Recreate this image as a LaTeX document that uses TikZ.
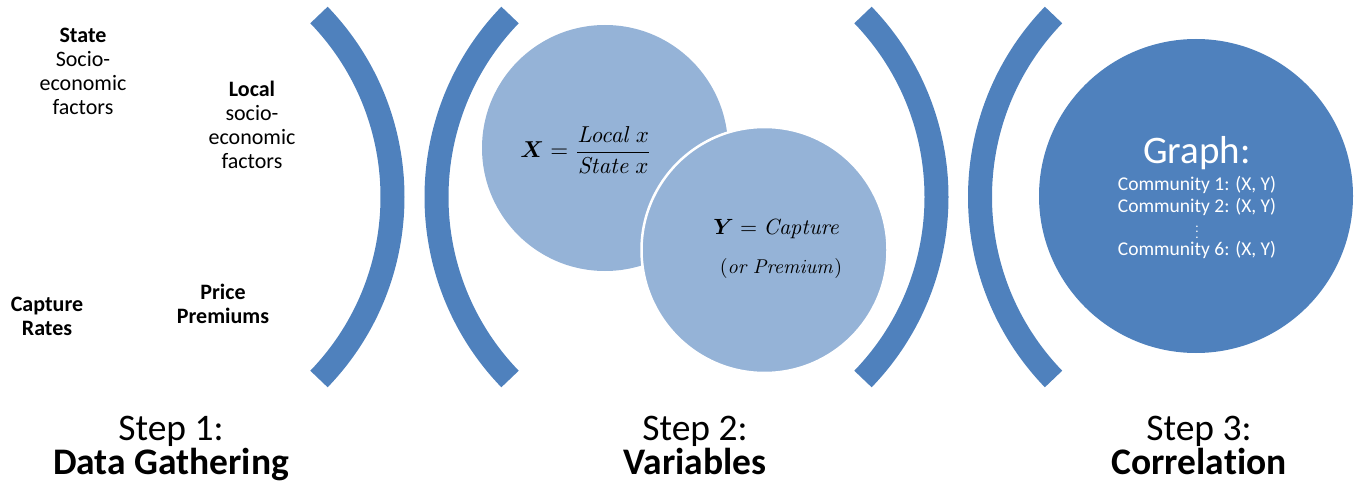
\documentclass[tikz,border=0pt]{standalone}
\usepackage{amsmath}
\usepackage[no-math]{fontspec}
\setmainfont{Carlito}[Ligatures=NoCommon]
\definecolor{darkblue}{HTML}{4F81BD}
\definecolor{lightblue}{HTML}{95B3D7}
\tikzset{
  bracket/.style={draw=darkblue, line width=24pt},
  smalltxt/.style={align=center, font=\fontsize{22}{24}\selectfont, inner sep=0pt},
  steptxt/.style={anchor=base, font=\fontsize{37.5}{34}\selectfont, inner sep=0pt},
  commtxt/.style={text=white, inner sep=0pt, font=\fontsize{19.5}{22}\selectfont},
  lightcirc/.style={circle, fill=lightblue, minimum size=246pt, inner sep=0pt},
}
\begin{document}
\begin{tikzpicture}[x=1pt,y=1pt]
\useasboundingbox (0,0) rectangle (1361,-492);
% brackets
\coordinate (b1) at (130.5,-197);
\coordinate (b2) at (698.5,-197);
\coordinate (b3) at (674.5,-197);
\coordinate (b4) at (1242,-197);
\draw[bracket] (b1) ++(-44:262) arc[start angle=-44, end angle=44, radius=262pt];
\draw[bracket] (b2) ++(136:262) arc[start angle=136, end angle=224, radius=262pt];
\draw[bracket] (b3) ++(-44:262) arc[start angle=-44, end angle=44, radius=262pt];
\draw[bracket] (b4) ++(136:262) arc[start angle=136, end angle=224, radius=262pt];
% circles
\node[lightcirc] (c1) at (605,-148) {};
\node[lightcirc, draw=white, line width=2.5pt] (c2) at (764.5,-250) {};
\node[circle, fill=darkblue, minimum size=314pt, inner sep=0pt] (c3) at (1196,-196) {};
% formulas
\node[inner sep=0pt] (fx) at (586,-150)
  {\scalebox{2.3}{$\boldsymbol{X}=\dfrac{\mathit{Local}\ x}{\mathit{State}\ x}$}};
\node[inner sep=0pt] (fy) at (777,-229)
  {\scalebox{2.2}{$\boldsymbol{Y}=\mathit{Capture}$}};
\node[inner sep=0pt] (fp) at (781,-268)
  {\scalebox{2.0}{$(\mathit{or\ Premium})$}};
% graph text
\node[text=white, inner sep=0pt, font=\fontsize{39}{47}\selectfont] (g) at (1197,-153) {Graph:};
\node[commtxt] (cm1) at (1197,-185) {Community 1: (X, Y)};
\node[commtxt] (cm2) at (1197,-207) {Community 2: (X, Y)};
\node[text=white, inner sep=0pt] (dots) at (1197,-238) {\smash{\scalebox{1.3}{$\vdots$}}};
\node[commtxt] (cm6) at (1197,-250) {Community 6: (X, Y)};
% left texts
\node[smalltxt] (state) at (83,-71) {\textbf{State}\\Socio-\\economic\\factors};
\node[smalltxt] (local) at (252,-125) {\textbf{Local}\\socio-\\economic\\factors};
\node[smalltxt] (capture) at (47,-316.5) {\textbf{Capture}\\\textbf{Rates}};
\node[smalltxt] (price) at (223,-303.5) {\textbf{Price}\\\textbf{Premiums}};
% step labels
\node[steptxt] (s1a) at (171,-440) {Step 1:};
\node[steptxt] (s1b) at (171,-474) {\textbf{Data Gathering}};
\node[steptxt] (s2a) at (695,-440) {Step 2:};
\node[steptxt] (s2b) at (695,-474) {\textbf{Variables}};
\node[steptxt] (s3a) at (1199,-440) {Step 3:};
\node[steptxt] (s3b) at (1199,-474) {\textbf{Correlation}};
\end{tikzpicture}
\end{document}
